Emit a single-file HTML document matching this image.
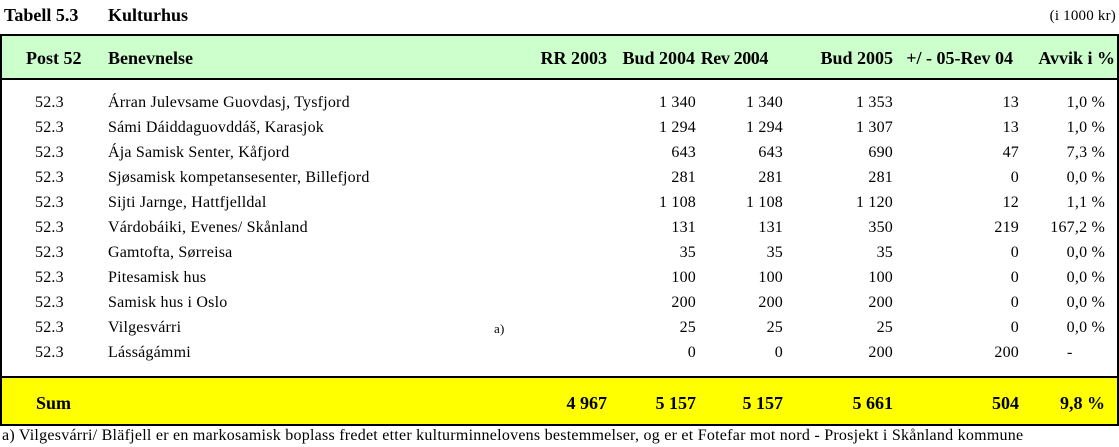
<!DOCTYPE html>
<html><head><meta charset="utf-8"><style>
body{margin:0;width:1119px;height:447px;background:#fff;position:relative;overflow:hidden;font-family:"Liberation Serif",serif;color:#000}
.a{position:absolute;white-space:nowrap;line-height:20px;font-size:16px;letter-spacing:0.2px}
.b{font-weight:bold;font-size:18px;letter-spacing:0}
</style></head><body>
<div class="a b" style="left:4px;top:5px">Tabell 5.3</div>
<div class="a b" style="left:108px;top:5px">Kulturhus</div>
<div class="a" style="right:3px;top:6px;font-size:15px">(i 1000 kr)</div>
<div style="position:absolute;left:0;top:34px;width:1115px;height:388px;border:2px solid #000"></div>
<div style="position:absolute;left:2px;top:36px;width:1115px;height:42px;background:#ccffcc;border-bottom:2px solid #000"></div>
<div style="position:absolute;left:2px;top:376px;width:1115px;height:46px;background:#ffff00;border-top:2px solid #000"></div>
<div id="t"></div>
<div class="a" style="left:2px;top:426px;letter-spacing:0.25px">a) Vilgesvárri/ Bläfjell er en markosamisk boplass fredet etter kulturminnelovens bestemmelser, og er et Fotefar mot nord - Prosjekt i Skånland kommune</div>
<script>
const names=["Árran Julevsame Guovdasj, Tysfjord","Sámi Dáiddaguovddáš, Karasjok","Ája Samisk Senter, Kåfjord","Sjøsamisk kompetansesenter, Billefjord","Sijti Jarnge, Hattfjelldal","Várdobáiki, Evenes/ Skånland","Gamtofta, Sørreisa","Pitesamisk hus","Samisk hus i Oslo","Vilgesvárri","Lásságámmi"];
const bud04=["1 340","1 294","643","281","1 108","131","35","100","200","25","0"];
const rev04=["1 340","1 294","643","281","1 108","131","35","100","200","25","0"];
const bud05=["1 353","1 307","690","281","1 120","350","35","100","200","25","200"];
const diff=["13","13","47","0","12","219","0","0","0","0","200"];
const avvik=["1,0 %","1,0 %","7,3 %","0,0 %","1,1 %","167,2 %","0,0 %","0,0 %","0,0 %","0,0 %","-"];
const t=document.getElementById('t');
function add(txt,style,cls,name){const d=document.createElement('div');d.className='a '+(cls||'');d.textContent=txt;d.style.cssText=style;


t.appendChild(d);}
const hy=48;
add('Post 52','left:26px;top:'+hy+'px','b','header-post');
add('Benevnelse','left:108px;top:'+hy+'px','b','header-benevnelse');
add('RR 2003','right:512px;top:'+hy+'px','b','header-rr2003');
add('Bud 2004','right:424px;top:'+hy+'px','b','header-bud2004');
add('Rev 2004','right:351px;top:'+hy+'px;letter-spacing:-0.4px','b','header-rev2004');
add('Bud 2005','right:226px;top:'+hy+'px','b','header-bud2005');
add('+/ - 05-Rev 04','right:106px;top:'+hy+'px','b','header-diff');
add('Avvik i %','right:4px;top:'+hy+'px','b','header-avvik');
for(let i=0;i<names.length;i++){const y=93+i*25;
add('52.3','left:35px;top:'+y+'px','','post-cell');
add(names[i],'left:108px;top:'+y+'px','','name-cell');
add(bud04[i],'right:423px;top:'+y+'px','','bud2004-cell');
add(rev04[i],'right:336px;top:'+y+'px','','rev2004-cell');
add(bud05[i],'right:226px;top:'+y+'px','','bud2005-cell');
add(diff[i],'right:100px;top:'+y+'px','','diff-cell');
add(avvik[i],avvik[i]=='-'?'left:1067px;top:'+y+'px':'right:14px;top:'+y+'px','','avvik-cell');
}
add('a)','left:494px;top:'+(93+9*25+1)+'px;font-size:13px','','footnote-marker');
const sy=393;
add('Sum','left:36px;top:'+sy+'px','b','sum-label');
add('4 967','right:512px;top:'+sy+'px','b','sum-rr2003');
add('5 157','right:423px;top:'+sy+'px','b','sum-bud2004');
add('5 157','right:336px;top:'+sy+'px','b','sum-rev2004');
add('5 661','right:226px;top:'+sy+'px','b','sum-bud2005');
add('504','right:100px;top:'+sy+'px','b','sum-diff');
add('9,8 %','right:14px;top:'+sy+'px','b','sum-avvik');
</script>
</body></html>
